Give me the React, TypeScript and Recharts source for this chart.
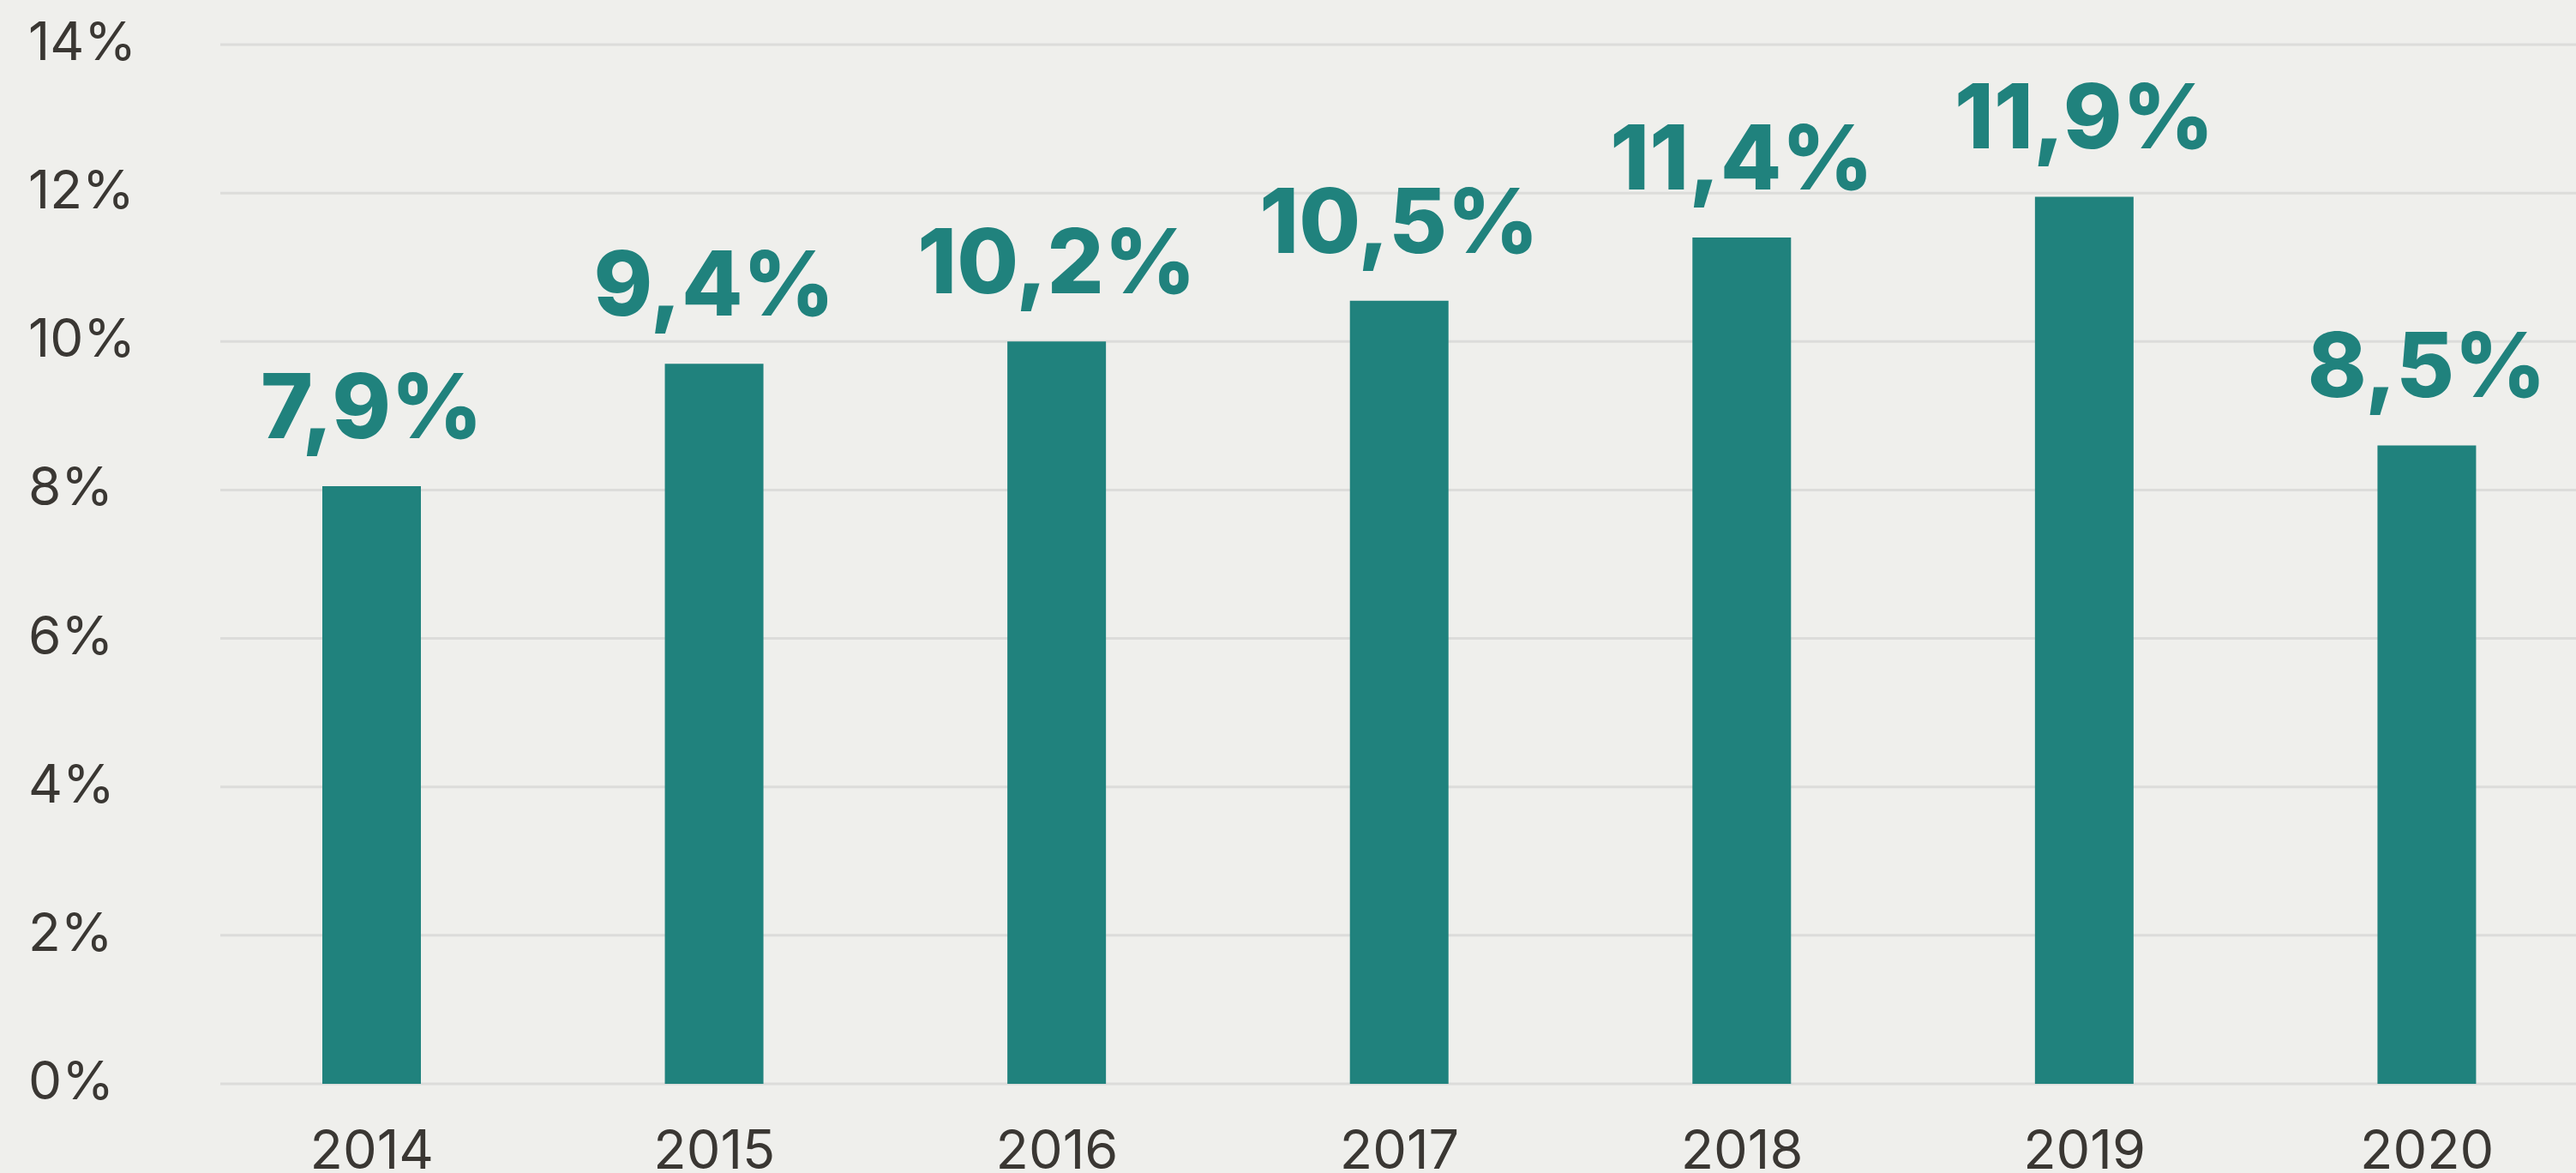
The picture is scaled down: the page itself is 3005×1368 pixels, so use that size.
import React from "react";
import {
  BarChart,
  Bar,
  XAxis,
  YAxis,
  CartesianGrid,
  LabelList,
} from "recharts";

const years = ["2014", "2015", "2016", "2017", "2018", "2019", "2020"];
// bar heights as drawn in the picture (they drift a little from the printed labels)
const values = [8.05, 9.7, 10.0, 10.55, 11.4, 11.95, 8.6];
const valueLabels = ["7,9%", "9,4%", "10,2%", "10,5%", "11,4%", "11,9%", "8,5%"];
const yTicks = [0, 2, 4, 6, 8, 10, 12, 14];

const data = years.map((year, i) => ({
  year,
  value: values[i],
  label: valueLabels[i],
}));

const TEAL = "#20827d";
const TEXT = "#3a3733";
const FONT = "Inter, 'Noto Sans', sans-serif";

const YTick = ({ y, payload }: any) => (
  <text
    x={33}
    y={y}
    dy={18}
    textAnchor="start"
    fontFamily={FONT}
    fontSize={62}
    fill={TEXT}
  >
    {payload.value}%
  </text>
);

const XTick = ({ x, y, payload }: any) => (
  <text
    x={x}
    y={y}
    dy={99}
    textAnchor="middle"
    fontFamily={FONT}
    fontSize={63}
    fill={TEXT}
  >
    {payload.value}
  </text>
);

const ValueLabel = ({ x, y, width, value }: any) => (
  <text
    x={x + width / 2}
    y={y - 56}
    textAnchor="middle"
    fontFamily={FONT}
    fontWeight={800}
    fontSize={104}
    fill={TEAL}
  >
    {value}
  </text>
);

export default function App() {
  return (
    <div style={{ width: 3005, height: 1368, background: "#efefec" }}>
      <style>{"body{margin:0;overflow:hidden;background:#efefec}"}</style>
      <BarChart
        width={3005}
        height={1368}
        data={data}
        margin={{ top: 52, right: 0, bottom: 0, left: 0 }}
      >
        <CartesianGrid
          vertical={false}
          stroke="#dcdcda"
          strokeWidth={3}
        />
        <XAxis
          dataKey="year"
          axisLine={false}
          tickLine={false}
          tickSize={0}
          tickMargin={0}
          height={104}
          padding={{ left: -23, right: -26 }}
          tick={<XTick />}
        />
        <YAxis
          domain={[0, 14]}
          ticks={yTicks}
          axisLine={false}
          tickLine={false}
          width={257}
          tick={<YTick />}
        />
        <Bar dataKey="value" fill={TEAL} barSize={115} isAnimationActive={false}>
          <LabelList dataKey="label" content={<ValueLabel />} />
        </Bar>
      </BarChart>
    </div>
  );
}
